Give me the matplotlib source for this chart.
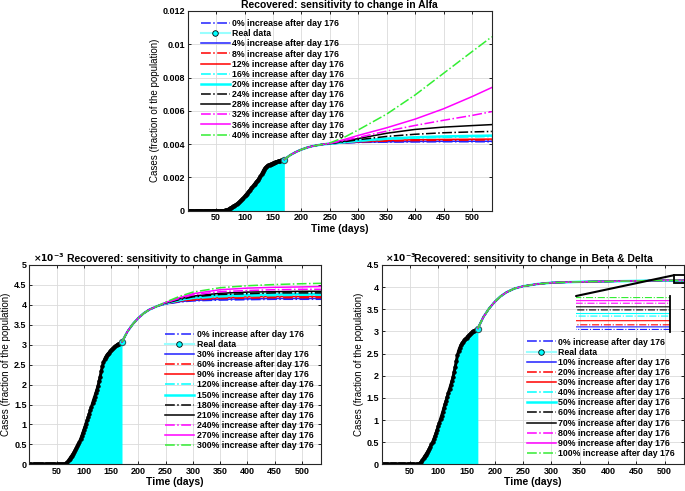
import numpy as np
import matplotlib
matplotlib.use('Agg')
import matplotlib.pyplot as plt
from matplotlib.lines import Line2D
from matplotlib.patches import Rectangle, ConnectionPatch
from matplotlib.ticker import FuncFormatter

plt.rcParams['font.family'] = ['Liberation Sans', 'DejaVu Sans']
plt.rcParams['font.weight'] = 'bold'

# real data (fraction of population, x 1e-3), every 2 days
real_days = list(range(0, 171, 2))
real_vals = [0.0, 0.0, 0.0, 0.0, 0.0, 0.0, 0.0, 0.0, 0.0, 0.0, 0.0, 0.0, 0.0, 0.0, 0.0, 0.0,
             0.0, 0.0, 0.0, 0.0, 0.0, 0.0, 0.0, 0.0, 0.0, 0.0, 0.0, 0.0, 0.0, 0.0, 0.0, 0.0,
             0.00, 0.01, 0.03, 0.06, 0.10, 0.14, 0.18, 0.22, 0.26, 0.30,
             0.35, 0.40, 0.45, 0.50, 0.56, 0.63, 0.70, 0.78, 0.86, 0.94,
             1.02, 1.10, 1.18, 1.27, 1.36, 1.44, 1.53, 1.62, 1.70, 1.78,
             1.87, 1.96, 2.08, 2.20, 2.33, 2.46, 2.56, 2.63, 2.69, 2.73,
             2.77, 2.80, 2.83, 2.86, 2.89, 2.91, 2.94, 2.96, 2.99, 3.01,
             3.02, 3.04, 3.05, 3.06]

# model curves after day 176
early_days = [170, 180, 190, 200, 210, 220, 235]
early_vals = [3.07, 3.33, 3.52, 3.67, 3.79, 3.88, 3.97]
late_days = [250, 275, 300, 350, 400, 450, 500, 535]

alfa_labels = ['0%', '4%', '8%', '12%', '16%', '20%', '24%', '28%', '32%', '36%', '40%']
alfa_late = [
    [4.02, 4.07, 4.10, 4.12, 4.13, 4.14, 4.14, 4.14],
    [4.02, 4.07, 4.11, 4.14, 4.16, 4.17, 4.17, 4.17],
    [4.02, 4.08, 4.13, 4.18, 4.21, 4.23, 4.24, 4.25],
    [4.02, 4.09, 4.15, 4.22, 4.26, 4.28, 4.29, 4.30],
    [4.02, 4.10, 4.18, 4.29, 4.36, 4.40, 4.43, 4.45],
    [4.02, 4.11, 4.20, 4.33, 4.41, 4.46, 4.49, 4.51],
    [4.03, 4.14, 4.26, 4.46, 4.59, 4.68, 4.73, 4.76],
    [4.03, 4.17, 4.33, 4.65, 4.88, 5.02, 5.11, 5.17],
    [4.04, 4.21, 4.40, 4.78, 5.12, 5.43, 5.72, 5.95],
    [4.05, 4.27, 4.52, 4.98, 5.50, 6.12, 6.85, 7.40],
    [4.07, 4.40, 4.85, 5.80, 6.95, 8.25, 9.55, 10.45],
]

gamma_labels = ['0%', '30%', '60%', '90%', '120%', '150%', '180%', '210%', '240%', '270%', '300%']
gamma_late = [
    [4.02, 4.07, 4.10, 4.12, 4.13, 4.14, 4.14, 4.14],
    [4.02, 4.08, 4.11, 4.14, 4.15, 4.16, 4.16, 4.16],
    [4.03, 4.09, 4.12, 4.16, 4.17, 4.18, 4.18, 4.18],
    [4.03, 4.10, 4.14, 4.18, 4.20, 4.21, 4.21, 4.21],
    [4.03, 4.11, 4.16, 4.20, 4.22, 4.23, 4.24, 4.24],
    [4.04, 4.12, 4.18, 4.23, 4.25, 4.26, 4.27, 4.27],
    [4.04, 4.13, 4.20, 4.26, 4.28, 4.30, 4.30, 4.30],
    [4.05, 4.15, 4.22, 4.29, 4.32, 4.33, 4.34, 4.34],
    [4.05, 4.16, 4.25, 4.33, 4.36, 4.38, 4.39, 4.39],
    [4.06, 4.18, 4.28, 4.38, 4.42, 4.44, 4.45, 4.46],
    [4.07, 4.21, 4.32, 4.43, 4.48, 4.51, 4.53, 4.54],
]

beta_labels = ['0%', '10%', '20%', '30%', '40%', '50%', '60%', '70%', '80%', '90%', '100%']
beta_late = [
    [4.02, 4.07, 4.10, 4.12, 4.13, 4.14, 4.1495, 4.1495],
    [4.02, 4.07, 4.10, 4.12, 4.13, 4.14, 4.1500, 4.1500],
    [4.02, 4.07, 4.10, 4.12, 4.13, 4.14, 4.1504, 4.1504],
    [4.02, 4.07, 4.10, 4.12, 4.13, 4.14, 4.1512, 4.1512],
    [4.02, 4.07, 4.10, 4.12, 4.13, 4.14, 4.1521, 4.1521],
    [4.02, 4.07, 4.10, 4.12, 4.13, 4.14, 4.1526, 4.1526],
    [4.02, 4.07, 4.10, 4.12, 4.13, 4.14, 4.1533, 4.1533],
    [4.02, 4.07, 4.10, 4.12, 4.13, 4.14, 4.1539, 4.1539],
    [4.02, 4.07, 4.10, 4.12, 4.13, 4.14, 4.1546, 4.1546],
    [4.02, 4.07, 4.10, 4.12, 4.13, 4.14, 4.1551, 4.1551],
    [4.02, 4.07, 4.10, 4.12, 4.13, 4.14, 4.1557, 4.1557],
]

colors = ['#2020ff', '#2020ff', 'red', 'red', 'cyan', 'cyan', 'black', 'black', 'magenta', 'magenta', '#33ee33']
styles = ['-.', '-', '-.', '-', '-.', '-', '-.', '-', '-.', '-', '-.']
widths = [1.1, 1.1, 1.1, 1.1, 1.1, 1.8, 1.1, 1.1, 1.1, 1.1, 1.1]

model_days = early_days + late_days


def draw_panel(ax, late, labels, title, ymax, ystep, fmt, leg_anchor):
    ax.set_axisbelow(True)
    ax.grid(True, color=(0.86, 0.86, 0.86), lw=0.6)
    ax.fill_between(real_days, real_vals, color='cyan', lw=0)
    ax.plot(real_days, real_vals, '-', color='k', lw=2.2)
    ax.plot(real_days, real_vals, 'o', ms=2.6, mfc='k', mec='k', mew=0.5)
    ax.plot(real_days[-1], real_vals[-1], 'o', ms=4.5, mfc='cyan', mec=(0.2, 0.35, 0.35), mew=0.8)
    lines = []
    for k, row in enumerate(late):
        ln, = ax.plot(model_days, early_vals + row, color=colors[k], ls=styles[k], lw=widths[k])
        lines.append(ln)
    proxy = Line2D([], [], color=(0.6, 1, 1), lw=1.5, marker='o', ms=4, mfc='cyan', mec='k', mew=0.6)
    handles = [lines[0], proxy] + lines[1:]
    names = [labels[0] + ' increase after day 176', 'Real data'] + \
            [lab + ' increase after day 176' for lab in labels[1:]]
    fig.legend(handles, names, loc='upper left', bbox_to_anchor=leg_anchor, frameon=False,
               labelspacing=0.13, handlelength=3.3, handletextpad=0.3,
               borderpad=0, borderaxespad=0, prop={'weight': 'bold', 'size': 6.3})
    ax.set_xlim(0, 535)
    ax.set_ylim(0, ymax)
    ax.set_xticks(range(50, 501, 50))
    ax.set_yticks(np.arange(0, ymax + 0.001, ystep))
    ax.yaxis.set_major_formatter(FuncFormatter(fmt))
    ax.tick_params(direction='in', top=True, right=True, length=2.5, width=0.6,
                   labelsize=6.5, pad=2)
    for s in ax.spines.values():
        s.set_linewidth(0.8)
        s.set_color((0.15, 0.15, 0.15))
    ax.set_title(title, fontsize=7.5, fontweight='bold', pad=2)
    ax.set_xlabel('Time (days)', fontsize=7.5, fontweight='bold', labelpad=1)
    ax.set_ylabel('Cases (fraction of the population)', fontsize=7, fontweight='normal', labelpad=2)


fig = plt.figure(figsize=(6.85, 4.91), dpi=100)
ax1 = fig.add_axes([0.274, 0.571, 0.444, 0.4067])
ax2 = fig.add_axes([0.0428, 0.0544, 0.4258, 0.4059])
ax3 = fig.add_axes([0.5572, 0.0544, 0.4418, 0.4059])

draw_panel(ax1, alfa_late, alfa_labels, 'Recovered: sensitivity to change in Alfa',
           12, 2, lambda v, p: '%g' % (v / 1000.0), (0.2934, 0.961))
draw_panel(ax2, gamma_late, gamma_labels, 'Recovered: sensitivity to change in Gamma',
           5, 0.5, lambda v, p: '%g' % v, (0.2409, 0.3283))
draw_panel(ax3, beta_late, beta_labels, 'Recovered: sensitivity to change in Beta & Delta',
           4.5, 0.5, lambda v, p: '%g' % v, (0.7689, 0.3126))

for ax in (ax2, ax3):
    ax.text(0.012, 1.005, r'$\times10^{-3}$', transform=ax.transAxes, ha='left', va='bottom',
            fontsize=6.5, fontweight='normal')

# zoom inset in Beta & Delta panel
ins = fig.add_axes([0.8409, 0.3238, 0.1372, 0.0733], facecolor='none')
for k, row in enumerate(beta_late):
    ins.plot(model_days, early_vals + row, color=colors[k], ls=styles[k], lw=0.8)
ins.set_xlim(517, 533)
ins.set_ylim(4.149, 4.156)
ins.set_xticks([])
ins.set_yticks([])
for side in ('left', 'top', 'bottom'):
    ins.spines[side].set_visible(False)
ins.spines['right'].set_linewidth(1.3)

ax3.add_patch(Rectangle((517, 4.09), 20, 0.18, fill=False, ec='k', lw=1.3, clip_on=False, zorder=5))
for pa, pb in [((517, 4.27), (0, 1)), ((537, 4.09), (1, 0))]:
    con = ConnectionPatch(xyA=pa, coordsA='data', axesA=ax3, xyB=pb, coordsB='axes fraction',
                          axesB=ins, color='k', lw=1.5)
    fig.add_artist(con)

fig.savefig('out.png', dpi=100)
